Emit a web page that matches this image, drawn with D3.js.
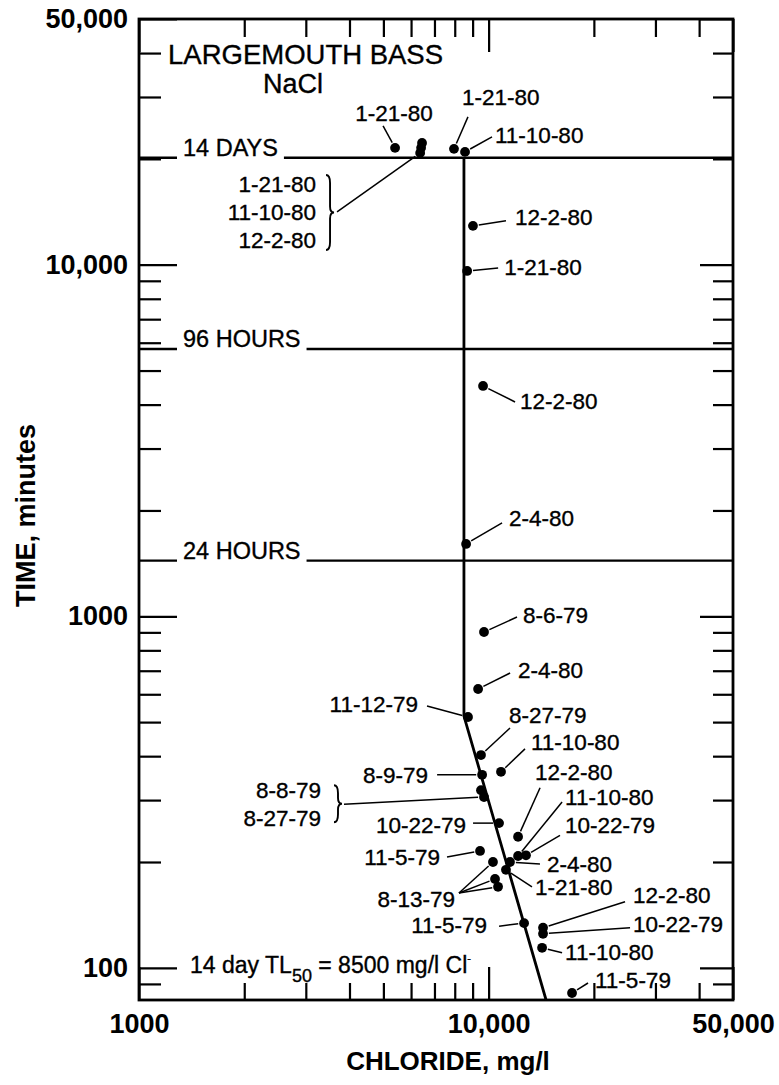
<!DOCTYPE html>
<html>
<head>
<meta charset="utf-8">
<script src="https://cdn.jsdelivr.net/npm/d3@7"></script>
<style>
  body { margin: 0; background: #fff; }
  svg { display: block; font-family: "Liberation Sans", Arial, Helvetica, sans-serif; }
  .lbl { stroke: #000; stroke-width: 0.35px; }
</style>
</head>
<body>
<svg id="chart"></svg>
<script>
// Test dates, chloride (mg/l) and time to death (minutes)
const dates = ["1-21-80", "1-21-80", "11-10-80", "12-2-80", "1-21-80", "11-10-80", "12-2-80",
  "1-21-80", "12-2-80", "2-4-80", "8-6-79", "2-4-80", "11-12-79", "8-27-79", "11-10-80",
  "8-9-79", "8-8-79", "8-27-79", "10-22-79", "12-2-80", "11-5-79", "11-10-80", "10-22-79",
  "2-4-80", "1-21-80", "8-13-79", "8-13-79", "8-13-79", "11-5-79", "12-2-80", "10-22-79",
  "11-10-80", "11-5-79"];
const chloride = [5400, 6450, 6410, 6370, 7960, 8560, 9020,
  8680, 9640, 8620, 9700, 9330, 8730, 9510, 10850,
  9580, 9510, 9700, 10710, 12140, 9450, 12140, 12790,
  11510, 11210, 10290, 10430, 10640, 12630, 14310, 14310,
  14220, 17320];
const minutes = [21500, 22200, 21500, 20800, 21360, 20940, 12900,
  9600, 4520, 1606, 902, 621, 517, 403, 361,
  354, 320, 306, 258, 236, 215, 208, 209,
  200, 190, 200, 179, 170, 134, 130, 125,
  114, 84.8];

// 14 day TL50 line
const trendChloride = [8500, 8500, 14600];
const trendMinutes = [20160, 520, 81];

// Exposure durations
const refLabels = ["14 DAYS", "96 HOURS", "24 HOURS"];
const refMinutes = [20160, 5760, 1440];

// Axis ticks
const xMajor = [1000, 10000, 50000];
const xMinor = [2000, 3000, 4000, 5000, 6000, 7000, 8000, 9000, 20000, 30000, 40000];
const yMajor = [100, 1000, 10000, 50000];
const yMinor = [90, 200, 300, 400, 500, 600, 700, 800, 900,
  2000, 3000, 4000, 5000, 6000, 7000, 8000, 9000, 20000, 30000, 40000];

// Points that share one date label
const labelGroups = [[0], [1, 2, 3], [4], [5], [6], [7], [8], [9], [10], [11], [12], [13], [14],
  [15], [16, 17], [19], [18], [20], [21], [22], [23], [24], [25, 26, 27], [28], [29], [30], [31], [32]];

// Label placement, pixel offsets from the first point of each group
const labelLayout = [
  { tx: -1, ty: -27, anchor: "middle", lx: -12, ly: -22 },
  { tx: -106, ty: 49, anchor: "end", lx: -85, ly: 69, brace: [-96, 32, 107], to: "last" },
  { tx: 8, ty: -44, anchor: "start", lx: 14, ly: -32 },
  { tx: 30, ty: -9, anchor: "start", lx: 27, ly: -15 },
  { tx: 42, ty: -1, anchor: "start", lx: 33, ly: -5 },
  { tx: 37, ty: 4, anchor: "start", lx: 31, ly: -3 },
  { tx: 37, ty: 23, anchor: "start", lx: 32, ly: 16 },
  { tx: 43, ty: -18, anchor: "start", lx: 36, ly: -21 },
  { tx: 39, ty: -9, anchor: "start", lx: 33, ly: -15 },
  { tx: 40, ty: -11, anchor: "start", lx: 32, ly: -16 },
  { tx: -50, ty: -5, anchor: "end", lx: -41, ly: -11 },
  { tx: 28, ty: -32, anchor: "start", lx: 29, ly: -27 },
  { tx: 30, ty: -22, anchor: "start", lx: 24, ly: -23 },
  { tx: -54, ty: 8, anchor: "end", lx: -45, ly: 0 },
  { tx: -160, ty: 8, anchor: "end", lx: -137, ly: 14, brace: [-147, -5, 32], to: "last" },
  { tx: 17, ty: -57, anchor: "start", lx: 22, ly: -49 },
  { tx: -33, ty: 10, anchor: "end", lx: -26, ly: 0 },
  { tx: -40, ty: 14, anchor: "end", lx: -33, ly: 6 },
  { tx: 47, ty: -51, anchor: "start", lx: 44, ly: -54 },
  { tx: 39, ty: -22, anchor: "start", lx: 34, ly: -20 },
  { tx: 37, ty: 10, anchor: "start", lx: 30, ly: 2 },
  { tx: 29, ty: 25, anchor: "start", lx: 26, ly: 17 },
  { tx: -38, ty: 45, anchor: "end", lx: -34, ly: 31, to: "all" },
  { tx: -37, ty: 10, anchor: "end", lx: -25, ly: 3 },
  { tx: 90, ty: -25, anchor: "start", lx: 82, ly: -26 },
  { tx: 90, ty: -2, anchor: "start", lx: 87, ly: -6 },
  { tx: 23, ty: 12, anchor: "start", lx: 20, ly: 5 },
  { tx: 23, ty: -5, anchor: "start", lx: 16, ly: -10 }
];

const width = 779, height = 1085;
const margin = { top: 19, right: 46, bottom: 85, left: 139 };
const r = 4.9;

const svg = d3.select("#chart")
  .attr("width", width)
  .attr("height", height);

const x = d3.scaleLog()
  .domain([1000, 50000])
  .range([margin.left, width - margin.right]);

const y = d3.scaleLog()
  .domain([81, 50000])
  .range([height - margin.bottom, margin.top]);

const fmt = d => d >= 10000 ? d3.format(",")(d) : String(d);
const x0 = x.range()[0], x1 = x.range()[1];
const y0 = y.range()[0], y1 = y.range()[1];

// axes, ticks pointing inward on all four sides
function drawAxis(axis, tx, ty, cls) {
  const g = svg.append("g")
    .attr("class", cls)
    .attr("transform", `translate(${tx},${ty})`)
    .call(axis);
  g.select(".domain").remove();
  g.selectAll("line").attr("stroke", "#000").attr("stroke-width", 2.2);
  g.selectAll("text")
    .attr("fill", "#000")
    .style("font-size", "27px")
    .style("font-weight", "bold")
    .style("font-family", "'Liberation Sans', Arial, sans-serif");
  return g;
}

drawAxis(d3.axisLeft(y).tickValues(yMajor).tickSize(-38).tickPadding(11).tickFormat(fmt), x0, 0, "y-axis");
drawAxis(d3.axisLeft(y).tickValues(yMinor).tickSize(-22).tickFormat(""), x0, 0, "y-minor");
drawAxis(d3.axisRight(y).tickValues(yMajor).tickSize(-33).tickFormat(""), x1, 0, "y-right");
drawAxis(d3.axisRight(y).tickValues(yMinor).tickSize(-20).tickFormat(""), x1, 0, "y-right-minor");
drawAxis(d3.axisBottom(x).tickValues(xMajor).tickSize(-33).tickPadding(14).tickFormat(fmt), 0, y0, "x-axis");
drawAxis(d3.axisBottom(x).tickValues(xMinor).tickSize(-17).tickFormat(""), 0, y0, "x-minor");
drawAxis(d3.axisTop(x).tickValues(xMajor).tickSize(-33).tickFormat(""), 0, y1, "x-top");
drawAxis(d3.axisTop(x).tickValues(xMinor).tickSize(-18).tickFormat(""), 0, y1, "x-top-minor");

svg.append("rect")
  .attr("x", x0)
  .attr("y", y1)
  .attr("width", x1 - x0)
  .attr("height", y0 - y1)
  .attr("fill", "none")
  .attr("stroke", "#000")
  .attr("stroke-width", 2.8);

// axis titles
svg.append("text")
  .attr("transform", `translate(35,${(y0 + y1) / 2 + 6}) rotate(-90)`)
  .attr("text-anchor", "middle")
  .style("font-size", "27px")
  .style("font-weight", "bold")
  .text("TIME, minutes");

svg.append("text")
  .attr("x", 448)
  .attr("y", 1070)
  .attr("text-anchor", "middle")
  .style("font-size", "26px")
  .style("font-weight", "bold")
  .text("CHLORIDE, mg/l");

// title
svg.append("text")
  .attr("class", "lbl")
  .attr("x", 168)
  .attr("y", 64)
  .style("font-size", "27.5px")
  .text("LARGEMOUTH BASS");

svg.append("text")
  .attr("class", "lbl")
  .attr("x", 293)
  .attr("y", 93)
  .attr("text-anchor", "middle")
  .style("font-size", "27px")
  .text("NaCl");

// exposure duration lines with their labels
refMinutes.forEach((m, i) => {
  const yy = y(m);
  svg.append("line")
    .attr("x1", x0).attr("x2", x0 + 38)
    .attr("y1", yy).attr("y2", yy)
    .attr("stroke", "#000").attr("stroke-width", 2.4);
  const t = svg.append("text")
    .attr("class", "lbl")
    .attr("x", x0 + 44)
    .attr("y", yy - 1.5)
    .style("font-size", "23.5px")
    .text(refLabels[i]);
  const w = t.node().getComputedTextLength();
  svg.append("line")
    .attr("x1", x0 + 44 + w + 6).attr("x2", x1)
    .attr("y1", yy).attr("y2", yy)
    .attr("stroke", "#000").attr("stroke-width", 2.4);
});

// TL50 line
const trend = trendChloride.map((c, i) => [c, trendMinutes[i]]);
svg.append("path")
  .datum(trend)
  .attr("fill", "none")
  .attr("stroke", "#000")
  .attr("stroke-width", 2.8)
  .attr("d", d3.line().x(d => x(d[0])).y(d => y(d[1])));

// points
svg.selectAll(".dot")
  .data(dates.map((d, i) => ({ date: d, c: chloride[i], m: minutes[i] })))
  .enter().append("circle")
  .attr("class", "dot")
  .attr("cx", d => x(d.c))
  .attr("cy", d => y(d.m))
  .attr("r", r)
  .attr("fill", "#000");

// leader line, trimmed at the dot
function leader(ax, ay, bx, by) {
  const dx = bx - ax, dy = by - ay;
  const len = Math.sqrt(dx * dx + dy * dy);
  const k = (len - r - 1) / len;
  svg.append("line")
    .attr("x1", ax).attr("y1", ay)
    .attr("x2", ax + dx * k).attr("y2", ay + dy * k)
    .attr("stroke", "#000")
    .attr("stroke-width", 1.5);
}

function bracePath(bx, b0, b1) {
  const m = (b0 + b1) / 2, w = 4;
  return `M${bx},${b0} Q${bx + w},${b0} ${bx + w},${b0 + 8} L${bx + w},${m - 6} ` +
    `Q${bx + w},${m} ${bx + 2 * w},${m} Q${bx + w},${m} ${bx + w},${m + 6} ` +
    `L${bx + w},${b1 - 8} Q${bx + w},${b1} ${bx},${b1}`;
}

// date labels
labelGroups.forEach((pts, gi) => {
  const L = labelLayout[gi];
  const px = x(chloride[pts[0]]), py = y(minutes[pts[0]]);
  const lines = L.brace ? pts.map(p => dates[p]) : [dates[pts[0]]];
  lines.forEach((txt, li) => {
    svg.append("text")
      .attr("class", "lbl")
      .attr("x", px + L.tx)
      .attr("y", py + L.ty + li * 28)
      .attr("text-anchor", L.anchor)
      .style("font-size", "22.5px")
      .text(txt);
  });
  if (L.brace) {
    svg.append("path")
      .attr("d", bracePath(px + L.brace[0], py + L.brace[1], py + L.brace[2]))
      .attr("fill", "none")
      .attr("stroke", "#000")
      .attr("stroke-width", 1.9);
  }
  const targets = L.to === "all" ? pts : L.to === "last" ? [pts[pts.length - 1]] : [pts[0]];
  targets.forEach(p => leader(px + L.lx, py + L.ly, x(chloride[p]), y(minutes[p])));
});

// TL50 note
const note = svg.append("text")
  .attr("class", "lbl")
  .attr("x", 190)
  .attr("y", 973)
  .style("font-size", "23px");
note.append("tspan").text("14 day TL");
note.append("tspan").attr("dy", 9).style("font-size", "18px").text("50");
note.append("tspan").attr("dy", -9).text(" = 8500 mg/l Cl");
note.append("tspan").attr("dy", -11).style("font-size", "11px").text("-");
</script>
</body>
</html>
